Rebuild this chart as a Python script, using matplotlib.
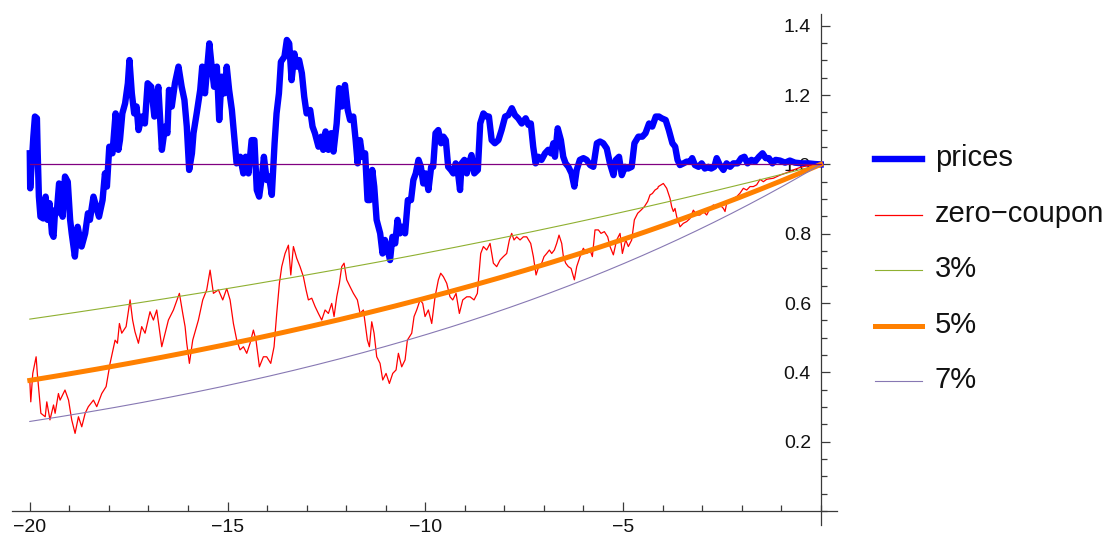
import matplotlib.pyplot as plt
import numpy as np
from matplotlib.lines import Line2D
from matplotlib.ticker import MultipleLocator

# --- data ---

# simulated bond price path (time to maturity in years, price)
price_t = [-20.00, -19.99, -19.93, -19.91, -19.87, -19.82, -19.80, -19.77, -19.73, -19.66,
           -19.60, -19.55, -19.50, -19.44, -19.40, -19.36, -19.32, -19.26, -19.19, -19.17,
           -19.11, -19.04, -18.98, -18.94, -18.86, -18.79, -18.69, -18.60, -18.53, -18.48,
           -18.39, -18.31, -18.25, -18.16, -18.10, -18.05, -17.99, -17.91, -17.83, -17.76,
           -17.72, -17.66, -17.59, -17.52, -17.48, -17.42, -17.36, -17.30, -17.25, -17.17,
           -17.09, -17.02, -16.93, -16.85, -16.75, -16.66, -16.58, -16.52, -16.48, -16.41,
           -16.33, -16.24, -16.16, -16.09, -16.03, -15.97, -15.90, -15.86, -15.78, -15.69,
           -15.64, -15.57, -15.51, -15.46, -15.40, -15.34, -15.27, -15.21, -15.15, -15.08,
           -15.02, -14.96, -14.89, -14.83, -14.77, -14.68, -14.60, -14.54, -14.47, -14.39,
           -14.32, -14.26, -14.20, -14.13, -14.08, -14.01, -13.95, -13.88, -13.81, -13.76,
           -13.70, -13.65, -13.56, -13.50, -13.44, -13.38, -13.31, -13.25, -13.19, -13.12,
           -13.06, -13.00, -12.91, -12.85, -12.79, -12.70, -12.63, -12.58, -12.52, -12.45,
           -12.38, -12.32, -12.24, -12.18, -12.11, -12.03, -11.96, -11.90, -11.82, -11.76,
           -11.71, -11.65, -11.59, -11.52, -11.46, -11.40, -11.34, -11.29, -11.23, -11.14,
           -11.08, -11.02, -10.95, -10.89, -10.83, -10.76, -10.70, -10.64, -10.58, -10.51,
           -10.44, -10.36, -10.30, -10.24, -10.17, -10.11, -10.05, -9.99, -9.92, -9.85,
           -9.80, -9.74, -9.67, -9.60, -9.54, -9.48, -9.42, -9.35, -9.29, -9.23,
           -9.16, -9.12, -9.08, -9.01, -8.95, -8.89, -8.83, -8.76, -8.67, -8.61,
           -8.53, -8.45, -8.39, -8.32, -8.24, -8.15, -8.07, -7.98, -7.90, -7.81,
           -7.73, -7.65, -7.56, -7.46, -7.39, -7.33, -7.27, -7.21, -7.14, -7.06,
           -6.97, -6.89, -6.82, -6.76, -6.72, -6.65, -6.57, -6.51, -6.45, -6.38,
           -6.30, -6.23, -6.17, -6.09, -6.00, -5.92, -5.83, -5.75, -5.66, -5.58,
           -5.50, -5.41, -5.33, -5.24, -5.18, -5.10, -5.03, -4.95, -4.87, -4.78,
           -4.71, -4.61, -4.51, -4.43, -4.34, -4.26, -4.17, -4.09, -4.02, -3.92,
           -3.84, -3.75, -3.68, -3.62, -3.56, -3.47, -3.39, -3.30, -3.25, -3.18,
           -3.09, -3.01, -2.93, -2.84, -2.77, -2.69, -2.63, -2.55, -2.46, -2.38,
           -2.29, -2.21, -2.10, -2.01, -1.93, -1.85, -1.75, -1.66, -1.56, -1.47,
           -1.39, -1.31, -1.22, -1.14, -1.03, -0.90, -0.78, -0.65, -0.48, -0.31,
           -0.15, 0.00]
price_v = [1.032, 0.931, 1.046, 1.080, 1.138, 1.133, 1.032, 0.907, 0.849, 0.844,
           0.907, 0.840, 0.888, 0.801, 0.791, 0.868, 0.859, 0.945, 0.936, 0.849,
           0.965, 0.950, 0.840, 0.801, 0.734, 0.820, 0.763, 0.801, 0.859, 0.840,
           0.907, 0.873, 0.849, 0.897, 0.974, 0.936, 1.051, 1.032, 1.147, 1.042,
           1.070, 1.147, 1.176, 1.234, 1.301, 1.205, 1.147, 1.167, 1.099, 1.138,
           1.118, 1.234, 1.224, 1.138, 1.224, 1.042, 1.109, 1.090, 1.215, 1.167,
           1.234, 1.282, 1.224, 1.186, 1.109, 0.984, 1.032, 1.090, 1.147, 1.215,
           1.282, 1.205, 1.282, 1.349, 1.282, 1.224, 1.282, 1.128, 1.253, 1.205,
           1.282, 1.215, 1.157, 1.080, 1.003, 1.022, 0.974, 1.022, 0.974, 1.070,
           1.070, 0.926, 0.907, 0.965, 1.022, 0.955, 0.965, 0.912, 1.061, 1.147,
           1.205, 1.296, 1.311, 1.359, 1.349, 1.243, 1.320, 1.282, 1.301, 1.263,
           1.195, 1.147, 1.157, 1.109, 1.090, 1.051, 1.080, 1.042, 1.095, 1.042,
           1.090, 1.037, 1.118, 1.220, 1.167, 1.229, 1.157, 1.128, 1.138, 1.070,
           1.003, 1.070, 1.022, 1.032, 0.897, 0.897, 0.984, 0.936, 0.840, 0.801,
           0.743, 0.782, 0.753, 0.724, 0.791, 0.772, 0.840, 0.801, 0.820, 0.801,
           0.897, 0.897, 0.955, 0.974, 1.013, 0.993, 0.945, 0.974, 0.926, 0.993,
           0.993, 1.090, 1.099, 1.061, 1.080, 1.070, 0.993, 0.984, 0.974, 1.003,
           0.965, 0.926, 1.003, 1.013, 0.974, 1.003, 1.027, 0.974, 0.984, 1.118,
           1.147, 1.138, 1.138, 1.070, 1.061, 1.070, 1.099, 1.138, 1.142, 1.162,
           1.142, 1.133, 1.118, 1.133, 1.114, 1.118, 1.051, 1.003, 1.022, 1.013,
           1.032, 1.042, 1.032, 1.061, 1.022, 1.104, 1.070, 1.022, 1.003, 0.993,
           0.974, 0.936, 0.984, 1.013, 1.018, 1.013, 0.998, 0.993, 1.061, 1.066,
           1.061, 1.046, 1.003, 0.969, 1.013, 1.022, 0.969, 0.993, 0.988, 0.993,
           1.061, 1.080, 1.080, 1.090, 1.118, 1.109, 1.138, 1.138, 1.133, 1.128,
           1.099, 1.061, 1.051, 1.013, 0.998, 1.003, 1.008, 1.008, 1.018, 0.998,
           0.993, 1.003, 0.988, 0.993, 0.988, 0.993, 1.018, 0.998, 0.984, 1.003,
           0.993, 1.003, 1.003, 1.018, 1.022, 1.003, 1.013, 1.008, 1.022, 1.032,
           1.018, 1.018, 1.003, 1.013, 1.011, 1.005, 1.011, 1.005, 1.003, 1.003,
           1.001, 1.000]

# zero-coupon bond path
zc_t = [-20.00, -19.975, -19.925, -19.84, -19.81, -19.72, -19.61, -19.57, -19.49, -19.40,
        -19.36, -19.276, -19.234, -19.11, -19.02, -18.94, -18.855, -18.77, -18.686, -18.60,
        -18.52, -18.39, -18.307, -18.18, -18.07, -17.97, -17.843, -17.784, -17.734, -17.675,
        -17.565, -17.464, -17.40, -17.34, -17.253, -17.17, -17.085, -16.96, -16.874, -16.79,
        -16.663, -16.579, -16.495, -16.368, -16.217, -16.132, -16.073, -16.031, -15.964, -15.88,
        -15.736, -15.627, -15.526, -15.441, -15.357, -15.23, -15.121, -15.02, -14.935, -14.851,
        -14.767, -14.683, -14.598, -14.514, -14.43, -14.346, -14.28, -14.194, -14.093, -14.009,
        -13.907, -13.823, -13.756, -13.688, -13.629, -13.545, -13.46, -13.40, -13.334, -13.25,
        -13.166, -13.081, -13.014, -12.955, -12.87, -12.786, -12.702, -12.618, -12.533, -12.449,
        -12.365, -12.306, -12.238, -12.171, -12.112, -12.053, -11.986, -11.901, -11.817, -11.716,
        -11.648, -11.564, -11.463, -11.412, -11.353, -11.294, -11.227, -11.143, -11.075, -10.991,
        -10.907, -10.822, -10.738, -10.679, -10.595, -10.51, -10.452, -10.342, -10.283, -10.216,
        -10.131, -10.064, -10.005, -9.921, -9.836, -9.752, -9.668, -9.609, -9.541, -9.457,
        -9.373, -9.305, -9.221, -9.137, -9.052, -8.951, -8.867, -8.766, -8.682, -8.597,
        -8.53, -8.446, -8.361, -8.277, -8.193, -8.109, -8.024, -7.94, -7.873, -7.814,
        -7.755, -7.687, -7.603, -7.519, -7.434, -7.333, -7.266, -7.198, -7.131, -7.055,
        -6.996, -6.929, -6.861, -6.802, -6.735, -6.676, -6.617, -6.549, -6.507, -6.448,
        -6.381, -6.313, -6.229, -6.17, -6.086, -6.002, -5.917, -5.833, -5.774, -5.707,
        -5.622, -5.555, -5.471, -5.386, -5.327, -5.243, -5.159, -5.074, -5.015, -4.931,
        -4.864, -4.779, -4.712, -4.628, -4.544, -4.459, -4.375, -4.316, -4.257, -4.19,
        -4.122, -4.105, -3.979, -3.894, -3.81, -3.768, -3.726, -3.684, -3.641, -3.599,
        -3.557, -3.515, -3.473, -3.389, -3.304, -3.22, -3.136, -3.052, -2.967, -2.883,
        -2.799, -2.714, -2.63, -2.546, -2.461, -2.419, -2.377, -2.293, -2.209, -2.124,
        -2.04, -1.956, -1.871, -1.787, -1.703, -1.619, -1.534, -1.45, -1.366, -1.197,
        -1.029, -0.86, -0.692, -0.523, -0.355, -0.186, 0.00]
zc_v = [0.378, 0.315, 0.397, 0.445, 0.397, 0.282, 0.272, 0.315, 0.263, 0.306,
        0.282, 0.339, 0.320, 0.349, 0.320, 0.263, 0.224, 0.272, 0.243, 0.282,
        0.301, 0.320, 0.301, 0.339, 0.359, 0.426, 0.493, 0.484, 0.541, 0.513,
        0.532, 0.609, 0.551, 0.517, 0.484, 0.532, 0.513, 0.575, 0.551, 0.580,
        0.474, 0.513, 0.551, 0.580, 0.628, 0.570, 0.532, 0.484, 0.426, 0.493,
        0.551, 0.609, 0.638, 0.695, 0.628, 0.638, 0.609, 0.642, 0.609, 0.541,
        0.493, 0.465, 0.474, 0.455, 0.484, 0.522, 0.493, 0.416, 0.445, 0.445,
        0.426, 0.474, 0.570, 0.657, 0.705, 0.743, 0.767, 0.681, 0.763, 0.729,
        0.705, 0.676, 0.638, 0.609, 0.614, 0.590, 0.570, 0.551, 0.580, 0.570,
        0.599, 0.561, 0.618, 0.657, 0.705, 0.715, 0.667, 0.647, 0.628, 0.609,
        0.570, 0.580, 0.493, 0.474, 0.546, 0.513, 0.445, 0.426, 0.378, 0.397,
        0.368, 0.397, 0.407, 0.455, 0.416, 0.436, 0.493, 0.513, 0.561, 0.580,
        0.609, 0.599, 0.561, 0.580, 0.541, 0.618, 0.667, 0.686, 0.676, 0.657,
        0.618, 0.609, 0.628, 0.570, 0.609, 0.618, 0.618, 0.609, 0.628, 0.743,
        0.763, 0.753, 0.772, 0.715, 0.705, 0.724, 0.734, 0.743, 0.782, 0.801,
        0.782, 0.791, 0.782, 0.791, 0.791, 0.772, 0.734, 0.681, 0.705, 0.715,
        0.734, 0.743, 0.753, 0.743, 0.753, 0.772, 0.796, 0.772, 0.734, 0.715,
        0.705, 0.700, 0.667, 0.705, 0.734, 0.758, 0.743, 0.753, 0.734, 0.811,
        0.811, 0.801, 0.806, 0.791, 0.763, 0.739, 0.782, 0.801, 0.743, 0.782,
        0.763, 0.782, 0.840, 0.859, 0.868, 0.878, 0.893, 0.912, 0.916, 0.926,
        0.931, 0.936, 0.945, 0.931, 0.902, 0.878, 0.864, 0.873, 0.849, 0.835,
        0.820, 0.825, 0.830, 0.835, 0.844, 0.868, 0.854, 0.854, 0.864, 0.854,
        0.873, 0.883, 0.878, 0.883, 0.873, 0.864, 0.888, 0.893, 0.902, 0.907,
        0.917, 0.931, 0.926, 0.936, 0.936, 0.941, 0.957, 0.950, 0.957, 0.960,
        0.969, 0.976, 0.984, 0.991, 0.996, 0.998, 1.000]

# flat discount rates for the reference curves
rates = [0.03, 0.05, 0.07]
rate_labels = ['3%', '5%', '7%']

# --- plot ---

fig = plt.figure(figsize=(11.07, 5.36), dpi=100)
ax = fig.add_axes([12 / 1107, 1 - 524.9 / 536, 825.3 / 1107, 511.3 / 536])

ax_col = '#3a3a3a'
rate_cols = ['#8fb031', '#ff8000', '#8778b3']
rate_lws = [0.8, 3.6, 0.8]

ax.plot(price_t, price_v, color='#0000ff', lw=4.6, zorder=3)
ax.plot(zc_t, zc_v, color='#ff0000', lw=0.9, zorder=3)

t = np.linspace(-20, 0, 400)
for r, c, w in zip(rates, rate_cols, rate_lws):
    ax.plot(t, (1 + r) ** t, color=c, lw=w, zorder=3)

ax.plot([-20, 0], [1, 1], color='#800080', lw=0.9, zorder=3)

ax.set_xlim(-20.45, 0.42)
ax.set_ylim(-0.04, 1.435)

for s in ['top', 'right']:
    ax.spines[s].set_visible(False)
ax.spines['left'].set_position(('data', 0))
ax.spines['bottom'].set_position(('data', 0))
for s in ['left', 'bottom']:
    ax.spines[s].set_color(ax_col)
    ax.spines[s].set_linewidth(0.9)
    ax.spines[s].set_zorder(1)

ax.set_xticks([-20, -15, -10, -5])
ax.xaxis.set_minor_locator(MultipleLocator(1))
ax.set_yticks([0.2, 0.4, 0.6, 0.8, 1.0, 1.2, 1.4])
ax.yaxis.set_minor_locator(MultipleLocator(0.05))
ax.set_yticklabels(['0.2', '0.4', '0.6', '0.8', '1.0', '1.2', '1.4'])
ax.set_xticklabels(['\u221220', '\u221215', '\u221210', '\u22125'])
ax.set_axisbelow(True)

ax.tick_params(which='both', direction='in', color=ax_col, width=0.9,
               labelsize=14, labelcolor='#111111', labelfontfamily='Liberation Sans')
ax.tick_params(which='major', length=6.5)
ax.tick_params(which='minor', length=4)
ax.tick_params(axis='y', pad=7)
ax.tick_params(axis='x', pad=6)
ax.patch.set_visible(False)

# legend drawn by hand on the right
leg_labels = ['prices', 'zero\u2212coupon'] + rate_labels
leg_cols = ['#0000ff', '#ff0000'] + rate_cols
leg_lws = [4.6, 0.9] + rate_lws
for i, (lab, c, w) in enumerate(zip(leg_labels, leg_cols, leg_lws)):
    py = 159 + 55.6 * i
    yf = 1 - py / 536
    fig.add_artist(Line2D([875 / 1107, 922 / 1107], [yf, yf], color=c, lw=w,
                          transform=fig.transFigure))
    fig.text(935 / 1107, 1 - (py + 7) / 536, lab, fontsize=21, va='baseline',
             ha='left', color='#111111', family='Liberation Sans')

fig.savefig('out.png', dpi=100)
